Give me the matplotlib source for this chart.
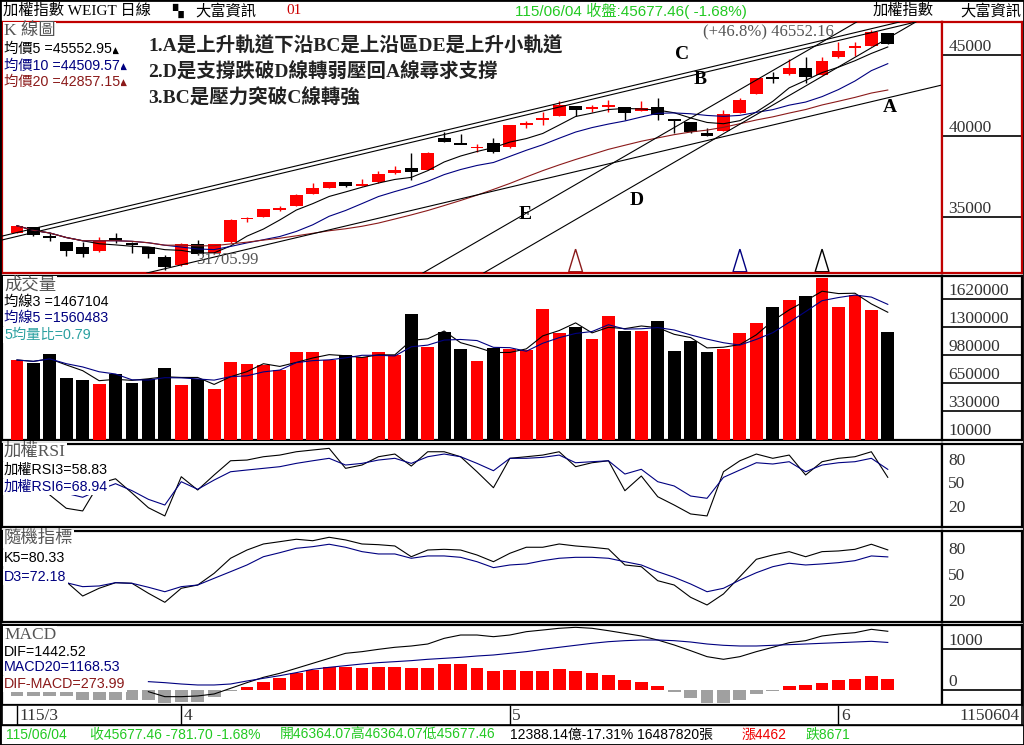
import matplotlib
matplotlib.use("Agg")
import matplotlib.pyplot as plt
import numpy as np
import pandas as pd
from matplotlib.patches import Polygon, Rectangle

W, H = 1024, 745
SERIF = ["Liberation Serif", "Noto Sans CJK TC", "DejaVu Sans"]
SANS = ["Liberation Sans", "Noto Sans CJK TC", "DejaVu Sans"]
RED = "#ff0000"
NAVY = "#000080"
DKRED = "#8b1a1a"
GRAY = "#a0a0a0"
GREEN = "#22c922"
TEAL = "#2aa0a0"
nan = np.nan

# ---- daily candles (115/3 .. 115/06/04) ----
opens = [34008, 34343, 33804, 33414, 33122, 32856, 33661, 33389, 33122, 32521,
         32007, 33290, 32732, 33432, 34860, 35000, 35470, 35681, 36425, 36797,
         37150, 36930, 37131, 37689, 38017, 37912, 39876, 39520, 39270, 39548,
         39300, 40710, 41030, 41258, 41840, 41700, 41820, 41778, 41549, 41778,
         41035, 40849, 40167, 40328, 41444, 42602, 43637, 43823, 44195, 43780,
         44876, 45480, 45595, 46364.07]
highs = [34460, 34380, 34008, 33430, 33432, 33761, 33971, 33420, 33140, 32605,
         33350, 33556, 33320, 34830, 35000, 35490, 35644, 36406, 37069, 37180,
         37170, 37354, 37831, 38141, 38928, 38990, 40217, 40105, 39523, 39895,
         40700, 40929, 41468, 42187, 41860, 41921, 42231, 41800, 42169, 42354,
         41050, 40860, 40477, 41611, 42373, 43620, 43947, 44771, 44876, 44876,
         45806, 45806, 46552.16, 46364.07]
lows = [33990, 33820, 33494, 32583, 32521, 32840, 33352, 32769, 32441, 31705.99,
        31950, 32650, 32700, 33400, 34690, 34990, 35353, 35660, 36400, 36780,
        36860, 36902, 37110, 37670, 37274, 37890, 39640, 39480, 38978, 38950,
        39280, 40514, 40682, 41240, 41258, 41506, 41506, 40991, 41530, 41022,
        40204, 40200, 40000, 40300, 41420, 42580, 43265, 43800, 43265, 43760,
        44860, 44957, 45580, 45677.46]
closes = [34442, 33866, 33661, 32875, 32707, 33513, 33513, 33228, 32670, 31865,
          33290, 32689, 33290, 34795, 34920, 35477, 35520, 36344, 36778, 37150,
          36883, 36970, 37646, 37893, 37788, 38965, 39659, 39490, 39310, 38978,
          40682, 40740, 41070, 41921, 41630, 41730, 41850, 41406, 41753, 41283,
          40911, 40229, 40019, 41363, 42231, 43594, 43532, 44195, 43674, 44647,
          45285, 45510, 46459.16, 45677.46]
volume = [918000, 886000, 987000, 710000, 687000, 641000, 756000, 653000, 695000, 825000,
          630000, 695000, 584000, 895000, 872000, 857000, 802000, 1010000, 1010000, 918000,
          972000, 949000, 1010000, 972000, 1447000, 1067000, 1240000, 1044000, 910000, 1056000,
          1048000, 1033000, 1505000, 1232000, 1298000, 1160000, 1424000, 1252000, 1252000, 1367000,
          1021000, 1140000, 1010000, 1044000, 1232000, 1347000, 1528000, 1609000, 1658000, 1862000,
          1528000, 1670000, 1493000, 1240000]

rsi3 = [nan, nan, 36.5, 19.7, 16.3, 51, 57, 39, 20.4, 10,
        59.6, 42.8, 61.8, 79.8, 80.7, 84.9, 87, 91.2, 93.4, 95.5,
        70.2, 74.4, 84.9, 88.3, 73.1, 91.2, 91.2, 84.9, 65.9, 45.7,
        82.9, 84.9, 87, 91.2, 72.3, 77.3, 79.8, 41.9, 60.5, 34.3,
        23.8, 12.5, 10, 65.9, 79.8, 88.3, 82.9, 87, 61.8, 78.6,
        82.9, 84.9, 91.2, 58.83]
rsi6 = [nan, nan, 42.8, 38.6, 33.6, 42.8, 50.8, 42, 31, 23.8,
        53.3, 43.7, 55.4, 65.9, 68.1, 70.2, 72.3, 76.5, 79.8, 82.9,
        74.4, 76.5, 80.7, 82.9, 76.5, 84.9, 88.3, 84.9, 76.5, 67.2,
        82.9, 82.9, 84.1, 87, 77.3, 78.6, 79.8, 63, 69, 53.3,
        47.9, 35.2, 32.3, 58.8, 68.1, 77.3, 75.7, 78.6, 65.9, 74.4,
        77.3, 78.6, 82.9, 68.94]
k5 = [nan, nan, nan, 43.4, 26.7, 35.7, 42.2, 41.5, 29.9, 19.4,
      35.7, 39.5, 53.1, 70.6, 80.2, 87.2, 89.9, 92.7, 91, 95,
      91.9, 87.2, 86.4, 84.9, 72.4, 80.2, 81, 80.2, 74.4, 66.6,
      76.4, 83.4, 83.4, 87.2, 84.9, 83.4, 81.4, 62.8, 60.8, 44.5,
      39.5, 25.2, 16.3, 29.1, 49.2, 69.4, 74.4, 78.3, 72.4, 78.3,
      79.1, 81, 86.9, 80.33]
d3 = [nan, nan, nan, 42.2, 37.6, 38.4, 42.2, 41.5, 36.9, 31.7,
      37.6, 39.5, 47.3, 55, 62.8, 72.4, 77.1, 82.2, 84.1, 86.9,
      83.4, 78.3, 75.6, 75.6, 70.6, 73.3, 73.3, 71.7, 66.6, 59.7,
      62.8, 64, 67.8, 70.6, 71.7, 71.7, 70.6, 66.6, 62.8, 55,
      48.5, 40.7, 31.7, 35.7, 45.3, 53.8, 60.8, 64.8, 62.8, 64,
      65.5, 67.8, 73.3, 72.18]
dif = [nan] * 8 + [-41, -164, -164, -147, -98, 41, 180, 311, 410, 532,
                   655, 778, 901, 942, 999, 1049, 1081, 1130, 1269, 1351,
                   1351, 1310, 1351, 1433, 1474, 1516, 1540, 1516, 1457, 1392,
                   1327, 1228, 1106, 966, 819, 754, 819, 942, 1049, 1163,
                   1212, 1327, 1376, 1408, 1491, 1442.52]
macd20 = [nan] * 8 + [205, 180, 147, 123, 123, 147, 221, 287, 352, 426,
                      508, 557, 598, 639, 672, 696, 721, 754, 778, 803,
                      835, 860, 901, 942, 999, 1049, 1098, 1147, 1187, 1212,
                      1228, 1228, 1212, 1179, 1130, 1098, 1081, 1081, 1098, 1114,
                      1130, 1147, 1163, 1179, 1196, 1168.53]
osc = [-147, -147, -147, -147, -246, -246, -246, -246, -246, -311,
       -287, -287, -180, -20, 81, 204, 303, 410, 491, 573,
       573, 548, 573, 573, 548, 548, 631, 631, 548, 475,
       491, 475, 475, 508, 475, 426, 369, 246, 205, 106,
       -60, -190, -311, -311, -246, -110, -20, 106, 123, 180,
       246, 278, 344, 273.99]

month_idx = [0, 10, 30, 50]
month_labels = ["115/3", "4", "5", "6"]

# hand-drawn trend lines (bar index, price) and their letters
trend_lines = [((-0.9, 33800), (53.7, 47060)),
               ((-0.9, 33560), (54.7, 47060)),
               ((7.9, 31510), (56.3, 43160)),
               ((24.7, 31510), (51.1, 47060)),
               ((28.4, 31510), (54.7, 47060))]
line_letters = ["A", "B", "C", "D", "E"]
letter_pos = [(53.1, 41735), (41.6, 43470), (40.5, 45019), (37.7, 35973), (30.9, 35167)]
notes = ["1.A是上升軌道下沿BC是上沿區DE是上升小軌道",
         "2.D是支撐跌破D線轉弱壓回A線尋求支撐",
         "3.BC是壓力突破C線轉強"]
signal_idx = [34, 44, 49]
signal_colors = [DKRED, NAVY, "black"]

# ---------------------------------------------------------------
fig = plt.figure(figsize=(W / 100, H / 100), dpi=100)
fig.patch.set_facecolor("white")


def px_axes(x0, y0, x1, y1):
    return fig.add_axes([x0 / W, 1 - y1 / H, (x1 - x0) / W, (y1 - y0) / H])


def ftext(x, y, s, **kw):
    kw.setdefault("family", SERIF)
    kw.setdefault("va", "center")
    return fig.text(x / W, 1 - y / H, s, **kw)


XL = (-0.91, 56.3)


def panel(y0, y1, ylim, edge="black"):
    ax = px_axes(2, y0, 942, y1)
    ax.set_xlim(*XL)
    ax.set_ylim(*ylim)
    side = px_axes(942, y0, 1022, y1)
    side.set_ylim(*ylim)
    side.set_xlim(0, 1)
    for a in (ax, side):
        a.set_xticks([])
        a.set_yticks([])
        for s in a.spines.values():
            s.set_color(edge)
            s.set_linewidth(1.6)
    return ax, side


def side_ticks(side, vals, labels, lines=True, above=True):
    for v, lab in zip(vals, labels):
        if lines:
            side.axhline(v, color="black", lw=1.2)
        side.text(0.08, v, lab, transform=side.get_yaxis_transform(), ha="left",
                  va="bottom" if above else "center", fontsize=12.5,
                  family=SERIF, color="#333333")


def label(x, y, s, color, arrow=None, size=10.3):
    t = ftext(x, y, s, color=color, fontsize=size, ha="left", family=SANS,
              bbox=dict(facecolor="white", edgecolor="none", pad=0.8))
    if arrow:
        ax_k.annotate(arrow, xy=(1.0, 0.1), xycoords=t, fontsize=6.5, color=color,
                      ha="left", va="bottom", family=["DejaVu Sans"])
    return t


def title(y, s):
    return ftext(4, y, s, fontsize=12.5, color="#555555", ha="left",
                 bbox=dict(facecolor="white", edgecolor="none", pad=0.5))


x = np.arange(len(closes))
o = np.array(opens, float)
c = np.array(closes, float)
hi = np.array(highs, float)
lo = np.array(lows, float)
up = c >= o
colors = np.where(up, RED, "black")

# ---- K panel ----
ax_k, side_k = panel(22, 273, (31512, 47063), edge="#c00000")
ax_k.vlines(x, lo, hi, colors=colors, lw=1, zorder=3)
span = np.abs(c - o)
body = np.maximum(span, 110)
ax_k.bar(x, body, bottom=np.minimum(o, c) - (body - span) / 2, width=0.78,
         color=colors, zorder=4)
cs = pd.Series(c)
for n, col in [(5, "black"), (10, NAVY), (20, DKRED)]:
    ax_k.plot(x, cs.rolling(n, min_periods=1).mean(), color=col, lw=0.8, zorder=5)
for (x0, y0), (x1, y1) in trend_lines:
    ax_k.plot([x0, x1], [y0, y1], color="black", lw=0.8, zorder=5)
for s, (lx, ly) in zip(line_letters, letter_pos):
    ax_k.text(lx, ly, s, fontsize=14, family=SERIF, fontweight="bold", ha="center", va="center")
for i, col in zip(signal_idx, signal_colors):
    tri = Polygon([(i - 0.42, 0.005), (i, 0.095), (i + 0.42, 0.005)], closed=True,
                  fill=False, ec=col, lw=1, transform=ax_k.get_xaxis_transform())
    ax_k.add_patch(tri)
imax = int(np.argmax(hi))
imin = int(np.argmin(lo))
ax_k.text(imax - 2.3, hi[imax] - 150, f"(+{(hi[imax] / lo[imin] - 1) * 100:.1f}%) {hi[imax]:.2f}",
          ha="right", va="center", fontsize=12, family=SERIF, color="#555555", zorder=6)
ax_k.text(imin + 1.9, lo[imin] + 100, f"{lo[imin]:.2f}", ha="left", va="bottom",
          fontsize=12, family=SERIF, color="#555555", zorder=6)
side_ticks(side_k, [35000, 40000, 45000], ["35000", "40000", "45000"])
for j, s in enumerate(notes):
    ftext(148, 46 + 26 * j, s, fontsize=14, fontweight="bold", ha="left", color="#222222")

# ---- volume panel ----
ax_v, side_v = panel(276, 440, (-3800, 1885000))
ax_v.bar(x, volume, width=0.78, color=colors, zorder=3)
vs = pd.Series(volume, dtype=float)
ax_v.plot(x, vs.rolling(3, min_periods=1).mean(), color="black", lw=0.8, zorder=4)
ax_v.plot(x, vs.rolling(5, min_periods=1).mean(), color=NAVY, lw=0.8, zorder=4)
side_ticks(side_v, [330000, 650000, 980000, 1300000, 1620000],
           ["330000", "650000", "980000", "1300000", "1620000"])
side_ticks(side_v, [10000], ["10000"], lines=False)

# ---- RSI panel ----
ax_r, side_r = panel(444, 527, (-4, 101))
ax_r.plot(x, rsi3, color="black", lw=0.8)
ax_r.plot(x, rsi6, color=NAVY, lw=0.8)
side_ticks(side_r, [80, 50, 20], ["80", "50", "20"], lines=False, above=False)

# ---- KD panel ----
ax_s, side_s = panel(531, 622, (-3.5, 102.3))
ax_s.plot(x, k5, color="black", lw=0.8)
ax_s.plot(x, d3, color=NAVY, lw=0.8)
side_ticks(side_s, [80, 50, 20], ["80", "50", "20"], lines=False, above=False)

# ---- MACD panel ----
ax_m, side_m = panel(625, 705, (-369, 1597))
osc_a = np.array(osc, float)
ax_m.bar(x, osc_a, width=0.78, color=np.where(osc_a >= 0, RED, GRAY), zorder=3)
ax_m.plot(x, dif, color="black", lw=0.8, zorder=4)
ax_m.plot(x, macd20, color=NAVY, lw=0.8, zorder=4)
side_ticks(side_m, [0, 1000], ["0", "1000"])

# ---- date row ----
ax_d = px_axes(2, 705, 1022, 725)
ax_d.set_xlim(XL[0], (1022 - 17) / 16.43)
ax_d.set_ylim(0, 1)
ax_d.set_xticks([])
ax_d.set_yticks([])
for s in ax_d.spines.values():
    s.set_linewidth(1.2)
ax_d.vlines(month_idx, 0, 1, color="black", lw=1)
for i, lab in zip(month_idx, month_labels):
    ax_d.text(i + 0.15, 0.45, lab, ha="left", va="center", fontsize=12.5,
              family=SERIF, color="#333333")
ax_d.text((1020 - 17) / 16.43, 0.45, "1150604", ha="right", va="center",
          fontsize=12.5, family=SERIF, color="#333333")

# ---- panel labels ----
title(31, "K 線圖")
label(4, 49, "均價5 =45552.95", "black", "▲")
label(4, 65.5, "均價10 =44509.57", NAVY, "▲")
label(4, 81.5, "均價20 =42857.15", DKRED, "▲")
title(285, "成交量")
label(4, 302, "均線3 =1467104", "black", "▼")
label(4, 318, "均線5 =1560483", NAVY, "▼")
label(4, 335, "5均量比=0.79", TEAL, "▼")
title(452, "加權RSI")
label(4, 470, "加權RSI3=58.83", "black", "▼")
label(4, 487, "加權RSI6=68.94", NAVY, "▼")
title(539, "隨機指標")
label(4, 558, "K5=80.33", "black", "▼")
label(4, 577, "D3=72.18", NAVY, "▼")
title(635, "MACD")
label(4, 651.5, "DIF=1442.52", "black", "▲")
label(4, 667, "MACD20=1168.53", NAVY, "▲")
label(4, 684, "DIF-MACD=273.99", DKRED, "▼")

# ---- header ----
ftext(3, 11, "加權指數 WEIGT 日線", fontsize=11, ha="left")
ftext(172, 11, "▚", fontsize=10, ha="left", family=["DejaVu Sans"])
ftext(195, 11, "大富資訊", fontsize=11, ha="left")
ftext(286, 11, "01", fontsize=11, ha="left", color="#cc0000")
ftext(515, 11, "115/06/04 收盤:45677.46( -1.68%)", fontsize=11, ha="left",
      color=GREEN, family=SANS)
ftext(873, 11, "加權指數", fontsize=11, ha="left")
ftext(960, 11, "大富資訊", fontsize=11, ha="left")

# ---- status line ----
ftext(6, 735, "115/06/04", fontsize=10, ha="left", color=GREEN, family=SANS)
ftext(90, 735, "收45677.46 -781.70 -1.68%", fontsize=10, ha="left", color=GREEN, family=SANS)
ftext(280, 735, "開46364.07高46364.07低45677.46", fontsize=10, ha="left", color=GREEN, family=SANS)
ftext(510, 735, "12388.14億-17.31% 16487820張", fontsize=10, ha="left", color="black", family=SANS)
ftext(742, 735, "漲4462", fontsize=10, ha="left", color="#ee0000", family=SANS)
ftext(805, 735, "跌8671", fontsize=10, ha="left", color=GREEN, family=SANS)

fig.add_artist(Rectangle((0, 0), 1, 1, transform=fig.transFigure, fill=False,
                         ec="black", lw=2))
fig.add_artist(Rectangle((0, 1 - 745 / H), 1, 20 / H, transform=fig.transFigure,
                         fill=False, ec="black", lw=1))

fig.savefig("out.png", dpi=100)
